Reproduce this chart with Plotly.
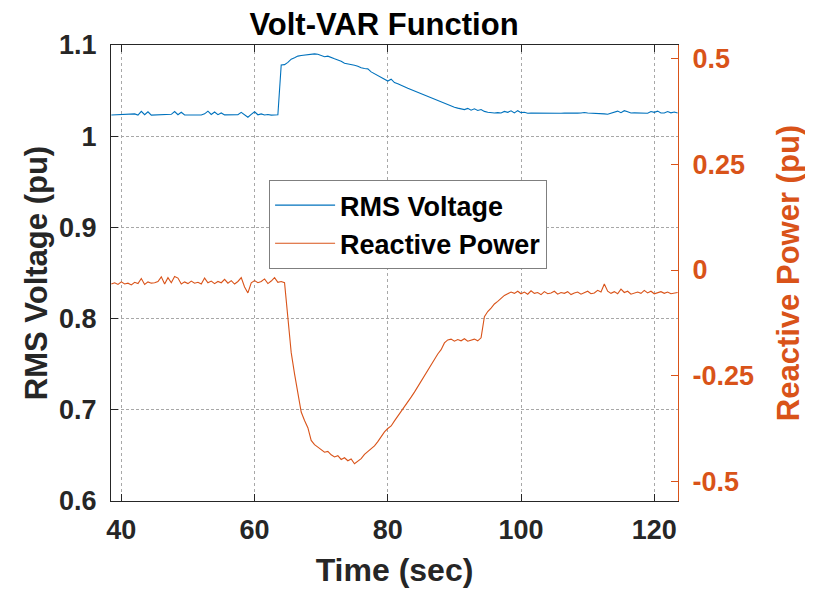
import plotly.graph_objects as go

# RMS voltage (pu), sampled every 0.5 s from 38.5 s to 123.5 s
rms_voltage = [
    1.0232, 1.0234, 1.0232, 1.0235, 1.0233, 1.0234, 1.0238, 1.0245, 1.0232, 1.0272,  # 38.5
    1.0236, 1.0268, 1.0231, 1.0233, 1.0232, 1.0234, 1.0233, 1.0235, 1.0240, 1.0270,  # 43.5
    1.0236, 1.0262, 1.0232, 1.0233, 1.0234, 1.0232, 1.0234, 1.0233, 1.0245, 1.0275,  # 48.5
    1.0238, 1.0265, 1.0236, 1.0255, 1.0234, 1.0233, 1.0232, 1.0234, 1.0236, 1.0262,  # 53.5
    1.0230, 1.0208, 1.0240, 1.0268, 1.0235, 1.0245, 1.0233, 1.0238, 1.0231, 1.0234,  # 58.5
    1.0235, 1.0780, 1.0785, 1.0810, 1.0845, 1.0860, 1.0878, 1.0885, 1.0890, 1.0893,  # 63.5
    1.0900, 1.0903, 1.0898, 1.0885, 1.0872, 1.0878, 1.0860, 1.0848, 1.0835, 1.0822,  # 68.5
    1.0800, 1.0795, 1.0790, 1.0778, 1.0768, 1.0750, 1.0742, 1.0738, 1.0705, 1.0685,  # 73.5
    1.0668, 1.0645, 1.0622, 1.0605, 1.0625, 1.0588, 1.0575, 1.0555, 1.0542, 1.0525,  # 78.5
    1.0510, 1.0495, 1.0480, 1.0466, 1.0448, 1.0430, 1.0415, 1.0400, 1.0385, 1.0372,  # 83.5
    1.0355, 1.0345, 1.0330, 1.0318, 1.0308, 1.0300, 1.0292, 1.0305, 1.0285, 1.0300,  # 88.5
    1.0282, 1.0292, 1.0272, 1.0262, 1.0256, 1.0255, 1.0258, 1.0255, 1.0272, 1.0262,  # 93.5
    1.0278, 1.0255, 1.0280, 1.0258, 1.0262, 1.0252, 1.0254, 1.0253, 1.0255, 1.0252,  # 98.5
    1.0253, 1.0255, 1.0252, 1.0254, 1.0253, 1.0252, 1.0255, 1.0253, 1.0254, 1.0252,  # 103.5
    1.0253, 1.0255, 1.0260, 1.0254, 1.0252, 1.0253, 1.0255, 1.0250, 1.0245, 1.0240,  # 108.5
    1.0250, 1.0262, 1.0275, 1.0258, 1.0280, 1.0268, 1.0254, 1.0256, 1.0253, 1.0255,  # 113.5
    1.0253, 1.0252, 1.0270, 1.0262, 1.0275, 1.0255, 1.0254, 1.0270, 1.0256, 1.0265,  # 118.5
    1.0254,                                                                          # 123.5
]

# Reactive power (pu), same sampling
reactive_power = [
    -0.033, -0.030, -0.034, -0.028, -0.033, -0.031, -0.035, -0.029, -0.032, -0.020,  # 38.5
    -0.034, -0.028, -0.031, -0.030, -0.027, -0.016, -0.033, -0.018, -0.030, -0.015,  # 43.5
    -0.019, -0.033, -0.028, -0.032, -0.026, -0.031, -0.029, -0.033, -0.019, -0.030,  # 48.5
    -0.026, -0.032, -0.027, -0.030, -0.022, -0.031, -0.025, -0.033, -0.027, -0.018,  # 53.5
    -0.040, -0.054, -0.030, -0.025, -0.030, -0.027, -0.021, -0.032, -0.026, -0.018,  # 58.5
    -0.029, -0.027, -0.030, -0.115, -0.195, -0.245, -0.295, -0.335, -0.355, -0.372,  # 63.5
    -0.402, -0.412, -0.418, -0.425, -0.430, -0.428, -0.436, -0.441, -0.438, -0.447,  # 68.5
    -0.443, -0.450, -0.446, -0.457, -0.450, -0.445, -0.435, -0.428, -0.422, -0.415,  # 73.5
    -0.405, -0.392, -0.382, -0.374, -0.368, -0.356, -0.345, -0.335, -0.325, -0.312,  # 78.5
    -0.300, -0.288, -0.275, -0.262, -0.250, -0.236, -0.222, -0.210, -0.198, -0.188,  # 83.5
    -0.172, -0.165, -0.163, -0.168, -0.164, -0.167, -0.162, -0.168, -0.165, -0.163,  # 88.5
    -0.167, -0.160, -0.110, -0.098, -0.090, -0.080, -0.074, -0.066, -0.060, -0.056,  # 93.5
    -0.052, -0.055, -0.050, -0.056, -0.052, -0.057, -0.049, -0.055, -0.053, -0.058,  # 98.5
    -0.051, -0.056, -0.054, -0.050, -0.057, -0.053, -0.055, -0.051, -0.058, -0.054,  # 103.5
    -0.052, -0.057, -0.053, -0.050, -0.056, -0.054, -0.048, -0.052, -0.033, -0.050,  # 108.5
    -0.055, -0.051, -0.056, -0.045, -0.053, -0.050, -0.057, -0.054, -0.052, -0.055,  # 113.5
    -0.048, -0.054, -0.050, -0.056, -0.053, -0.051, -0.055, -0.052, -0.056, -0.054,  # 118.5
    -0.053,                                                                          # 123.5
]

time_s = [38.5 + 0.5 * i for i in range(len(rms_voltage))]

x_ticks = [40, 60, 80, 100, 120]
x_tick_labels = ["40", "60", "80", "100", "120"]
v_ticks = [0.6, 0.7, 0.8, 0.9, 1.0, 1.1]
v_tick_labels = ["0.6", "0.7", "0.8", "0.9", "1", "1.1"]
q_ticks = [-0.5, -0.25, 0, 0.25, 0.5]
q_tick_labels = ["-0.5", "-0.25", "0", "0.25", "0.5"]

BLUE = "#0072BD"
ORANGE = "#D95319"
DARK = "#262626"
FONT = "Liberation Sans, Arial, sans-serif"

# the page body adds an 8px offset, so the figure is 8px smaller
W, H = 805, 582

fig = go.Figure()
fig.add_trace(go.Scatter(x=time_s, y=rms_voltage, name="RMS Voltage", mode="lines",
                         line=dict(color=BLUE, width=1.1), yaxis="y"))
fig.add_trace(go.Scatter(x=time_s, y=reactive_power, name="Reactive Power", mode="lines",
                         line=dict(color=ORANGE, width=1.1), yaxis="y2"))

fig.update_layout(
    width=W, height=H,
    margin=dict(l=103, r=135, t=37, b=89, autoexpand=False),
    paper_bgcolor="white", plot_bgcolor="white",
    font=dict(family=FONT, color="black"),
    title=dict(text="Volt-VAR Function", x=376 / W, xanchor="center",
               y=1 - 5 / H, yanchor="top", pad=dict(t=0, b=0), automargin=False,
               font=dict(size=31, family=FONT, weight="bold", color="black")),
    xaxis=dict(range=[38.45, 123.56], tickvals=x_ticks, ticktext=x_tick_labels,
               ticks="inside", ticklen=7, tickcolor=DARK, showline=True, linecolor=DARK,
               linewidth=1.3, mirror="ticks", showgrid=True, gridcolor="#a8a8a8",
               griddash="dot", gridwidth=1, zeroline=False, ticklabelstandoff=4,
               automargin=False,
               tickfont=dict(size=27, family=FONT, weight="bold", color=DARK),
               title=dict(text="Time (sec)", standoff=15,
                          font=dict(size=32, family=FONT, weight="bold", color=DARK))),
    yaxis=dict(range=[0.6, 1.1], tickvals=v_ticks, ticktext=v_tick_labels,
               ticks="inside", ticklen=7, tickcolor=DARK, showline=True, linecolor=DARK,
               linewidth=1.3, mirror=False, showgrid=True, gridcolor="#a8a8a8",
               griddash="3px,2px", gridwidth=1, zeroline=False, ticklabelstandoff=8,
               automargin=False,
               tickfont=dict(size=27, family=FONT, weight="bold", color=DARK),
               title=dict(text="RMS Voltage (pu)", standoff=2,
                          font=dict(size=31, family=FONT, weight="bold", color=DARK))),
    yaxis2=dict(range=[-0.545, 0.531], tickvals=q_ticks, ticktext=q_tick_labels,
                overlaying="y", side="right", anchor="x",
                ticks="inside", ticklen=7, tickcolor=ORANGE, showline=True,
                linecolor=ORANGE, linewidth=1, showgrid=False, zeroline=False,
                ticklabelstandoff=8, automargin=False,
                tickfont=dict(size=27, family=FONT, weight="bold", color=ORANGE),
                title=dict(text="Reactive Power (pu)", standoff=24,
                           font=dict(size=31, family=FONT, weight="bold", color=ORANGE))),
    legend=dict(x=(269 - 111) / 566.7, y=(500.7 - 180) / 455.7, xanchor="left",
                yanchor="top", bgcolor="white", bordercolor="#7f7f7f", borderwidth=1,
                font=dict(size=27, family=FONT, weight="bold", color="black"),
                tracegroupgap=0, itemwidth=60),
    showlegend=True,
)

fig.write_html("out.html")
